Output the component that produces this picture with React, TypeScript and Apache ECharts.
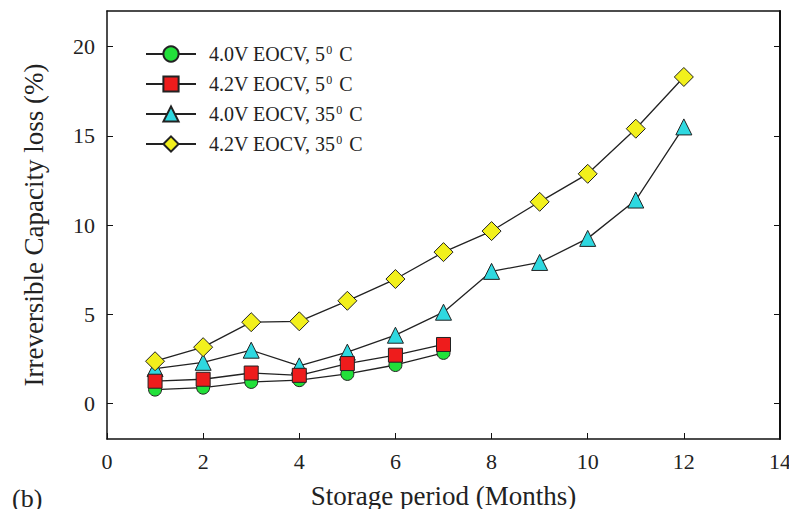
import React, { useEffect, useRef } from "react";
import * as echarts from "echarts";

const months = [1, 2, 3, 4, 5, 6, 7, 8, 9, 10, 11, 12];
const loss40V5C = [0.77, 0.88, 1.2, 1.3, 1.65, 2.15, 2.83];
const loss42V5C = [1.24, 1.35, 1.7, 1.57, 2.23, 2.7, 3.3];
const loss40V35C = [1.95, 2.3, 2.98, 2.1, 2.87, 3.82, 5.11, 7.4, 7.9, 9.25, 11.4, 15.5];
const loss42V35C = [2.36, 3.15, 4.55, 4.6, 5.75, 6.97, 8.48, 9.66, 11.3, 12.87, 15.4, 18.3];
const seriesNames = ["4.0V EOCV, 5\u2070 C", "4.2V EOCV, 5\u2070 C", "4.0V EOCV, 35\u2070 C", "4.2V EOCV, 35\u2070 C"];
const legendParts = [
  ["4.0V EOCV, 5", "0", " C"],
  ["4.2V EOCV, 5", "0", " C"],
  ["4.0V EOCV, 35", "0", " C"],
  ["4.2V EOCV, 35", "0", " C"],
];
const yTicks = [0, 5, 10, 15, 20];

const FONT = "'Liberation Serif', 'Times New Roman', serif";
const TXT = "#222";

function pairs(vals: number[]) {
  return vals.map((v, i) => [months[i], v]);
}

export default function App() {
  const ref = useRef<HTMLDivElement>(null);
  useEffect(() => {
    if (!ref.current) return;
    const chart = echarts.init(ref.current, null, { renderer: "svg" });
    const lineStyle = { color: "#222", width: 1.3 };
    const mk = (idx: number, vals: number[], symbol: string, size: number, color: string, z: number) => ({
      name: seriesNames[idx],
      type: "line",
      data: pairs(vals),
      symbol,
      symbolSize: size,
      showAllSymbol: true,
      z,
      lineStyle,
      itemStyle: { color, borderColor: "#222", borderWidth: 1 },
    });
    chart.setOption({
      animation: false,
      backgroundColor: "#fff",
      textStyle: { fontFamily: FONT },
      grid: { left: 107, right: 17, top: 11, bottom: 78, show: false },
      legend: {
        orient: "vertical",
        left: 145,
        top: 44,
        padding: 0,
        itemWidth: 50,
        itemHeight: 19,
        itemGap: 10,
        data: seriesNames,
        formatter: (name: string) => {
          const i = seriesNames.indexOf(name);
          const p = legendParts[i];
          return `{a|${p[0]}}{sup|${p[1]}}{a|${p[2]}}`;
        },
        textStyle: {
          fontFamily: FONT,
          color: TXT,
          padding: [0, 0, 0, 8],
          rich: {
            a: { fontFamily: FONT, fontSize: 20, color: TXT },
            sup: { fontFamily: FONT, fontSize: 12, color: TXT, verticalAlign: "top", padding: [0, 2, 8, 1] },
          },
        },
      },
      xAxis: [
        {
          type: "value",
          min: 0,
          max: 14,
          interval: 2,
          name: "Storage period (Months)",
          nameLocation: "middle",
          nameGap: 43,
          nameTextStyle: { fontFamily: FONT, fontSize: 27, color: TXT },
          axisLine: { show: true, onZero: false, lineStyle: { color: "#111", width: 1.5 } },
          axisTick: { show: true, inside: true, length: 6, lineStyle: { color: "#111" } },
          axisLabel: { fontFamily: FONT, fontSize: 22, color: TXT, margin: 11 },
          splitLine: { show: false },
        },
        {
          type: "value",
          position: "top",
          min: 0,
          max: 14,
          interval: 2,
          axisLine: { show: true, onZero: false, lineStyle: { color: "#111", width: 1.5 } },
          axisTick: { show: false },
          axisLabel: { show: false },
          splitLine: { show: false },
        },
      ],
      yAxis: [
        {
          type: "value",
          min: -2,
          max: 22,
          name: "Irreversible Capacity loss (%)",
          nameLocation: "middle",
          nameGap: 60,
          nameTextStyle: { fontFamily: FONT, fontSize: 27, color: TXT },
          axisLine: { show: true, onZero: false, lineStyle: { color: "#111", width: 1.5 } },
          axisTick: { show: true, inside: true, length: 6, customValues: yTicks, lineStyle: { color: "#111" } },
          axisLabel: { fontFamily: FONT, fontSize: 22, color: TXT, margin: 12, customValues: yTicks },
          splitLine: { show: false },
        },
        {
          type: "value",
          position: "right",
          min: -2,
          max: 22,
          axisLine: { show: true, onZero: false, lineStyle: { color: "#111", width: 2 } },
          axisTick: { show: true, inside: true, length: 6, customValues: yTicks, lineStyle: { color: "#111" } },
          axisLabel: { show: false },
          splitLine: { show: false },
        },
      ],
      graphic: [
        {
          type: "text",
          left: 12,
          top: 485,
          style: { text: "(b)", fontFamily: FONT, fontSize: 26, fill: TXT },
        },
      ],
      series: [
        mk(0, loss40V5C, "circle", 13, "#22e03a", 2),
        mk(2, loss40V35C, "triangle", 16, "#2ed8e0", 3),
        mk(1, loss42V5C, "rect", 14, "#ee1c1c", 4),
        mk(3, loss42V35C, "diamond", 19, "#f2f01c", 5),
      ],
    });
    return () => chart.dispose();
  }, []);
  return <div ref={ref} style={{ width: 797, height: 517, margin: -8 }} />;
}
